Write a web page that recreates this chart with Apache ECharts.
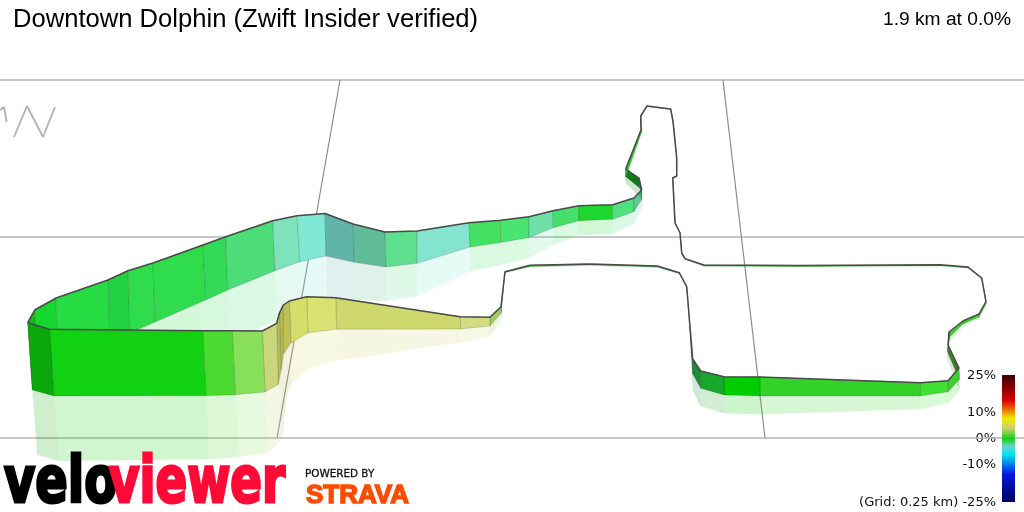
<!DOCTYPE html>
<html><head><meta charset="utf-8">
<style>html,body{margin:0;padding:0;background:#fff}#c{width:1024px;height:512px}</style>
<script src="https://cdn.jsdelivr.net/npm/echarts@6/dist/echarts.min.js"></script>
</head><body><div id="c"></div>
<script>
const chartTitle = 'Downtown Dolphin (Zwift Insider verified)';
const chartSummary = '1.9 km at 0.0%';
const gradientTicks = ['25%', '10%', '0%', '-10%', '(Grid: 0.25 km) -25%'];
const gradientTickY = [375, 412, 438, 464, 502];

const routeX = [27.7,34.7,56,108,128,153,203,225.7,272.7,297,325,353,385,417,469,500.7,529,553,579,612.7,634,641.7,639,625.7,641,640.7,647,670.7,673,676.7,676.7,672.7,675,680,681.7,685,704,800,940,968,981.7,986,979,963,949,948,959,948,920.7,760,724,700.7,692.7,686.7,679.3,657.3,590,530,505,501,490,460,335.7,306.7,289.3,283.3,279.3,276.7,262.3,232.3,202.7,49.3,27.7];
const routeY = [322.7,310,298,280,270.7,263,245,236.7,220.7,215.7,213.5,224,232,231,222.7,220.3,216.7,210.7,205.7,204.7,198,190,178,169,130,116,106,109,121.7,158,176,178,223,233,253,258.7,265,265.5,264.7,267,278,301.7,314,321,332,345,368,380.7,382.7,377,376.7,371,359,286.7,272.7,266,264,265.3,271.7,306.7,317.3,316.7,297.7,296.7,301,305,313.3,323.3,331,330.7,330.7,329.3,322.7];
const wallX = [32.3,36,58,110,130,155,205.7,227.7,275,300,326,354.3,386,417.3,470,500.7,529,553.3,579,612.7,634,641.7,640,625.7,642,641,647,670.7,673.5,677,677,673,675.5,680.5,682,685,704,800,940,968,982,986,979,963,949.7,947.5,959.3,948.3,920,760,724,700.7,692.7,687,679.3,657.3,590,530,505,501,490,460.7,336.7,308,291,283.5,281,278.3,265,235.3,206,54,32.3];
const wallY = [390,378,363,342,333,322,300,290,270.7,261.7,256,262.3,267,263.3,247,242.5,237.5,227.7,220.7,219.3,211.7,199.3,188.3,176.7,131,116.5,106.5,109.5,122,158,176,178.5,223,233,253,259,266,266.5,265.7,268,279,304,317,324,337,352,379.3,391.7,396,396,395,388.3,374,287.5,273.5,267,265,266.5,272.5,313.3,326,329,329.3,332.7,343,354,370,384.5,392,394.7,395.7,396,390];
const shadeX = [32.3,37,59,111,131,157,208,230,277,302,327,355,386.7,417.7,470.7,500.7,529,553.3,579,612.7,634,641.7,640,625.7,642,641,647,670.7,673.5,677,677,673,675.5,680.5,682,685,704,800,940,968,982,986,979,963,949.7,947,959.3,948.3,920,760,724,700,692.7,687,679.3,657.3,590,530,505,501,490,460.7,336.7,309,291.7,286,284,283,267.7,238.7,209,59.3,37.3];
const shadeY = [390,385,385,385,385,380,355,342,320,306,299,300,301,296,271,265,258.3,245,235.3,234,224,208.3,197,183.3,132,117,107,110,122.5,158.5,176.5,179,223.5,233.5,253.5,259.5,267,267,266.5,268.5,280,306,319,327,342,358,390,403.3,409.3,414.3,413.3,406,390,288,274,268,266,267.5,273,321.7,336,342.3,360.7,368,383.3,400,420,438.3,452.7,457.3,459.3,461,455];
const segmentColors = ['#0cc00c','#14d830','#28dc44','#22d240','#2edc4c','#2edc4c','#32da58','#4cdc78','#7ee2bc','#7ee8d4','#60b4a8','#60bc98','#5edf8e','#84e4d0','#44e062','#4ce470','#70e0a8','#44e06a','#1cd82e','#50e080','#60c898','#2c8c3c','#107a18','#30c830','#30c830','#30c830','#30c830','#30c830','#30c830','#30c830','#30c830','#30c830','#30c830','#30c830','#30c830','#30c830','#30c830','#30c830','#30c830','#30c830','#30c830','#40d030','#40d030','#40d030','#2a6a20','#3a7e2a','#3cd030','#3ee032','#32d228','#00cc00','#18a82e','#208a38','#1a7a28','#30c830','#30c830','#30c830','#30c830','#30c830','#228822','#9ccc60','#d2dc80','#ced86c','#d9e374','#d6dd68','#bfc058','#b3b84e','#b8bc58','#c8d67c','#88e05a','#4cd931','#12d012','#0aa80a'];

const gridLines = [[[0,80],[1024,80]],[[0,237],[1024,237]],[[0,438],[1024,438]]];
const slantLines = [[[340,80],[277,438]],[[723,80],[765,438]]];
const labelMarks = [[[14,137],[27,106],[43,137],[55,107]],[[0,110],[4,107],[6.7,122]]];
const colorBarX = [1002,1015];
const colorBarY = [375,502];
const colorStops = [[0,'#3a0000'],[0.2,'#d80000'],[0.28,'#ee7a00'],[0.34,'#f0e800'],[0.42,'#ccd070'],[0.5,'#10d010'],[0.56,'#70d0c8'],[0.62,'#00e8f0'],[0.78,'#0018e0'],[1,'#00005a']];

const segIndex = segmentColors.map((_, i) => [i]);
const lineSeries = (data, color, width, z) => ({type:'line', data, symbol:'none', silent:true, z, animation:false, lineStyle:{color, width}});

const chart = echarts.init(document.getElementById('c'), null, {renderer:'canvas'});
function fade(hex, a){
  const c = echarts.color.parse(hex);
  return `rgba(${c[0]},${c[1]},${c[2]},${a})`;
}
chart.setOption({
  animation:false,
  backgroundColor:'#fff',
  grid:{left:0,right:0,top:0,bottom:0},
  xAxis:{type:'value',min:0,max:1024,show:false},
  yAxis:{type:'value',min:0,max:512,inverse:true,show:false},
  tooltip:{show:false},
  graphic:{z:20,elements:[
    {type:'text',left:13,top:7,style:{text:chartTitle,font:'25.6px "Liberation Sans"',fill:'#000'}},
    {type:'text',right:13,top:10,style:{text:chartSummary,font:'19.2px "Liberation Sans"',fill:'#000'}},
    ...gradientTicks.map((t,i)=>({type:'text',right:28,top:gradientTickY[i]-6,style:{text:t,font:'13px "DejaVu Sans"',fill:'#111',align:'right'}})),
    {type:'text',z:20,x:4,y:453,scaleX:0.75,style:{text:'velo',font:'bold 64px "DejaVu Sans"',fill:'#000',stroke:'#000',lineWidth:3}},
    {type:'text',z:20,x:109,y:453,scaleX:0.73,style:{text:'viewer',font:'bold 64px "DejaVu Sans"',fill:'#ff0a37',stroke:'#ff0a37',lineWidth:3}},
    {type:'text',x:305,y:469,style:{text:'POWERED BY',font:'10.4px "DejaVu Sans"',fill:'#111',stroke:'#111',lineWidth:0.3}},
    {type:'text',x:306,y:482,scaleX:0.98,style:{text:'STRAVA',font:'900 26.5px "Liberation Sans"',fill:'#fc4c02',stroke:'#fc4c02',lineWidth:1.5}}
  ]},
  series:[
    ...gridLines.map(d=>lineSeries(d,'#b4b4b4',1.5,1)),
    ...slantLines.map(d=>lineSeries(d,'#8c8c8c',1.2,1)),
    ...labelMarks.map(d=>lineSeries(d,'#b4b4b4',1.9,1)),
    {type:'custom',coordinateSystem:'cartesian2d',silent:true,z:3,data:segIndex,clip:false,
     encode:{x:[],y:[]},
     renderItem(params,api){
       const i=api.value(0), j=i+1;
       const pts=(xs,ys,k)=>api.coord([xs[k],ys[k]]);
       const col=segmentColors[i];
       return {type:'group',children:[
         {type:'polygon',shape:{points:[pts(wallX,wallY,i),pts(wallX,wallY,j),pts(shadeX,shadeY,j),pts(shadeX,shadeY,i)]},style:{fill:fade(col,0.2)}},
         {type:'polygon',shape:{points:[pts(routeX,routeY,i),pts(routeX,routeY,j),pts(wallX,wallY,j),pts(wallX,wallY,i)]},style:{fill:col,stroke:'rgba(0,0,0,0.14)',lineWidth:1}}
       ]};
     }},
    {type:'line',z:5,silent:true,symbol:'none',animation:false,data:routeX.map((x,i)=>[x,routeY[i]]),lineStyle:{color:'#4a4a4a',width:1.5}},
    {type:'custom',coordinateSystem:'cartesian2d',silent:true,z:3,data:[[0]],encode:{x:[],y:[]},
     renderItem(params,api){
       const a=api.coord([colorBarX[0],colorBarY[0]]), b=api.coord([colorBarX[1],colorBarY[1]]);
       return {type:'rect',shape:{x:a[0],y:a[1],width:b[0]-a[0],height:b[1]-a[1]},
         style:{fill:new echarts.graphic.LinearGradient(0,0,0,1,colorStops.map(s=>({offset:s[0],color:s[1]})))}};
     }}
  ]
});
</script></body></html>
